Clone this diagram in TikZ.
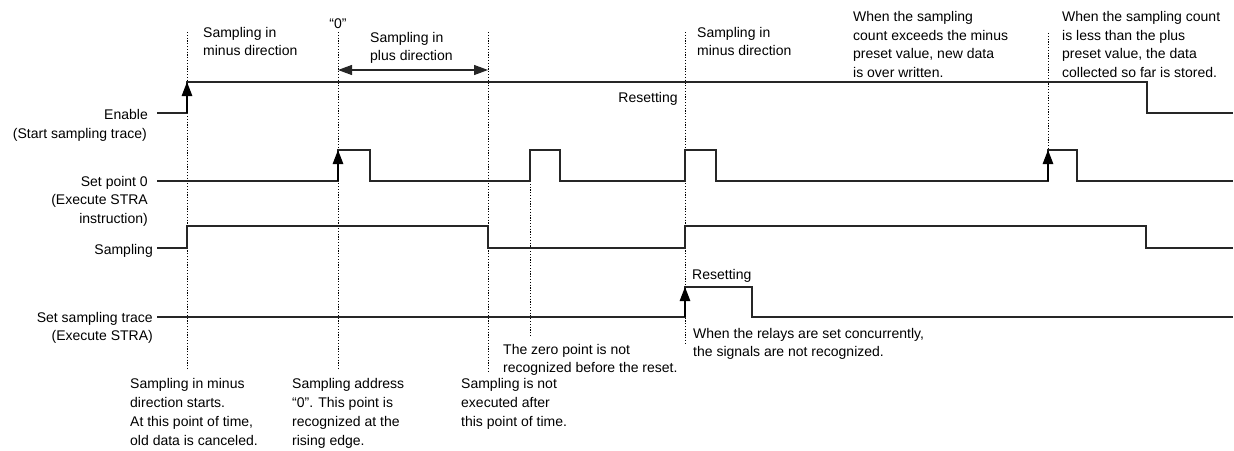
\documentclass[tikz,border=0pt]{standalone}
\usepackage{fontspec}
\setmainfont{Liberation Sans}
\usetikzlibrary{arrows.meta}
\begin{document}
\begin{tikzpicture}[x=1pt,y=-1pt,
  trace/.style={line width=1.2pt,black!85,line join=miter},
  guide/.style={line width=0.9pt,black,dash pattern=on 1.2pt off 1.6pt},
  tip/.style={-{Triangle[length=14pt,width=10.5pt]},line width=1.2pt,black},
  dtip/.style={{Triangle[length=14pt,width=10pt]}-{Triangle[length=14pt,width=10pt]},line width=1.2pt,black!85},
  txt/.style={font=\fontsize{14}{18.7}\selectfont,inner sep=0pt,align=left,anchor=base west},
  lbl/.style={font=\fontsize{14}{18.7}\selectfont,inner sep=0pt,align=right,anchor=base east}]
\useasboundingbox (0,0) rectangle (1234,450);

% guide lines
\draw[guide] (187,32) -- (187,370);
\draw[guide] (338,32) -- (338,370);
\draw[guide] (488,32) -- (488,372);
\draw[guide] (530,181) -- (530,337);
\draw[guide] (685,32) -- (685,345);
\draw[guide] (1048,33) -- (1048,150);

% Enable
\draw[trace] (157,113) -- (187,113) -- (187,82) -- (1147,82) -- (1147,113) -- (1233,113);
\draw[tip] (187,113) -- (187,82);
% Set point 0
\draw[trace] (157,181) -- (338,181) -- (338,150) -- (370,150) -- (370,181)
  -- (530,181) -- (530,150) -- (560,150) -- (560,181)
  -- (685,181) -- (685,150) -- (716,150) -- (716,181)
  -- (1048,181) -- (1048,150) -- (1077,150) -- (1077,181) -- (1233,181);
\draw[tip] (338,181) -- (338,150);
\draw[tip] (1048,181) -- (1048,150);
% Sampling
\draw[trace] (157,248) -- (187,248) -- (187,226) -- (488,226) -- (488,248)
  -- (685,248) -- (685,226) -- (1146,226) -- (1146,248) -- (1233,248);
% Set sampling trace
\draw[trace] (157,317) -- (685,317) -- (685,287) -- (752,287) -- (752,317) -- (1233,317);
\draw[tip] (685,317) -- (685,287);

% double arrow
\coordinate (pa) at (338,70);
\coordinate (pb) at (488,70);
\draw[dtip] (pa) -- (pb);

% left labels (base = last line)
\node[lbl] (lEn) at (148,119) {Enable};
\node[lbl] (lEn2) at (147,138) {(Start sampling trace)};
\node[lbl] (lSp) at (148,223.4) {Set point 0\\(Execute STRA\\instruction)};
\node[lbl] (lSa) at (153,254) {Sampling};
\node[lbl] (lSt) at (153,340.7) {Set sampling trace\\(Execute STRA)};

% top annotations
\node[txt] (t1) at (203,55.7) {Sampling in\\minus direction};
\node[txt,anchor=base] (t0) at (338,28) {“0”};
\node[txt] (t2) at (370,60.7) {Sampling in\\plus direction};
\node[txt,anchor=base] (tr) at (648,102) {Resetting};
\node[txt] (t3) at (697,55.7) {Sampling in\\minus direction};
\node[txt] (t4) at (853,77.5) {When the sampling\\count exceeds the minus\\preset value, new data\\is over written.};
\node[txt] (t5) at (1062,77.5) {When the sampling count\\is less than the plus\\preset value, the data\\collected so far is stored.};
\node[txt] (tr2) at (692,279) {Resetting};

% bottom annotations
\node[txt] (b1) at (130,445) {Sampling in minus\\direction starts.\\At this point of time,\\old data is canceled.};
\node[txt] (b2) at (292,445) {Sampling address\\“0”. This point is\\recognized at the\\rising edge.};
\node[txt] (b3) at (461,426.3) {Sampling is not\\executed after\\this point of time.};
\node[txt] (b4) at (503,372.7) {The zero point is not\\recognized before the reset.};
\node[txt] (b5) at (693,356.7) {When the relays are set concurrently,\\the signals are not recognized.};
\end{tikzpicture}
\end{document}
